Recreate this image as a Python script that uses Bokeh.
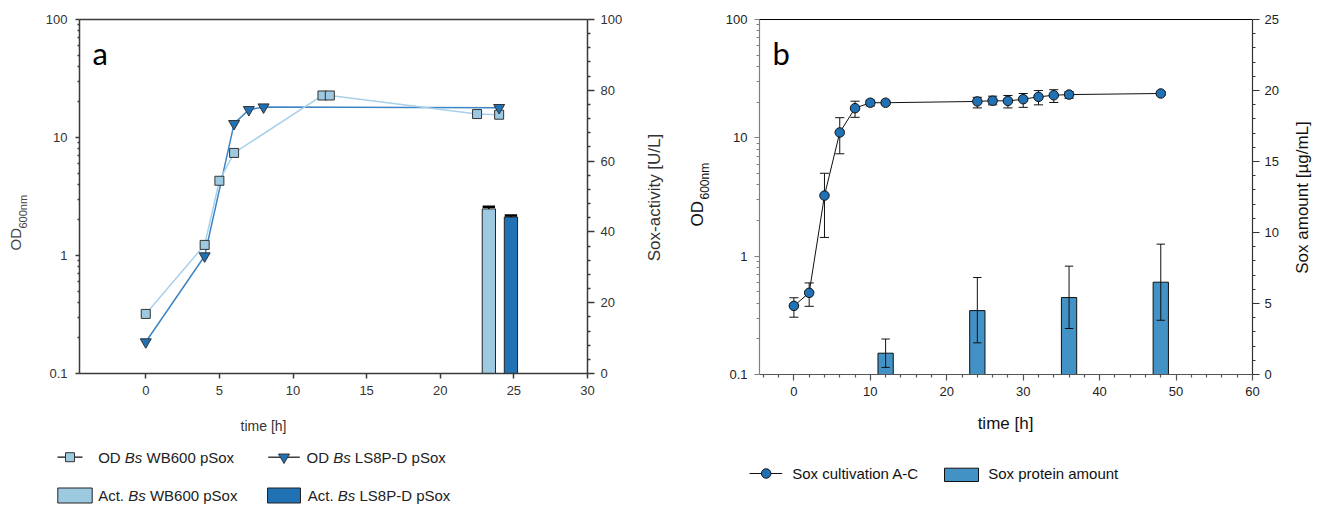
from math import pi, log10
from bokeh.plotting import figure
from bokeh.models import (Range1d, LinearAxis, LinearScale, FixedTicker, Label,
                          CustomJSTickFormatter, ColumnDataSource)
from bokeh.layouts import row
from bokeh.embed import file_html
from bokeh.resources import INLINE

# ---------------- data: panel a ----------------
a_wb_time = [0, 4, 5, 6, 12, 12.5, 22.5, 24]
a_wb_od = [0.32, 1.23, 4.3, 7.4, 22.7, 22.7, 15.8, 15.6]
a_ls_time = [0, 4, 6, 7, 8, 24]
a_ls_od = [0.185, 0.99, 13.1, 17.2, 18.1, 17.9]
a_act_time = [23.3, 24.8]
a_act = [46.5, 44.2]
a_act_err = [0.6, 0.4]

a_x_lim = [-4.5, 30]
a_y_lim = [0.1, 100]
a_y2_lim = [0, 100]
a_x_ticks = [0, 5, 10, 15, 20, 25, 30]
a_y_ticks = [0.1, 1, 10, 100]
a_y2_ticks = [0, 20, 40, 60, 80, 100]
a_y2_minor = [4, 8, 12, 16, 24, 28, 32, 36, 44, 48, 52, 56, 64, 68, 72, 76, 84, 88, 92, 96]

a_legend_od = [["OD", "Bs", "WB600 pSox"], ["OD", "Bs", "LS8P-D pSox"]]
a_legend_act = [["Act.", "Bs", "WB600 pSox"], ["Act.", "Bs", "LS8P-D pSox"]]

# ---------------- data: panel b ----------------
b_time = [0, 2, 4, 6, 8, 10, 12, 24, 26, 28, 30, 32, 34, 36, 48]
b_od = [0.38, 0.49, 3.25, 11.1, 17.8, 19.8, 19.8, 20.3, 20.6, 20.5, 21.2, 22.2, 22.9, 23.2, 23.7]
b_od_hi = [0.445, 0.594, 5.02, 14.8, 20.4, 20.8, 20.4, 22.0, 22.5, 22.8, 23.7, 25.1, 25.5, 24.6, 24.6]
b_od_lo = [0.305, 0.377, 1.44, 7.33, 14.9, 18.6, 19.2, 17.9, 19.0, 17.9, 18.1, 19.0, 19.9, 21.6, 22.8]

b_bar_time = [12, 24, 36, 48]
b_bar = [1.5, 4.5, 5.42, 6.5]
b_bar_hi = [2.5, 6.83, 7.63, 9.18]
b_bar_lo = [0.5, 2.23, 3.24, 3.82]

b_x_lim = [-4.5, 60]
b_y_lim = [0.1, 100]
b_y2_lim = [0, 25]
b_x_ticks = [0, 10, 20, 30, 40, 50, 60]
b_x_minor = [-4, -2, 2, 4, 6, 8, 12, 14, 16, 18, 22, 24, 26, 28, 32, 34, 36, 38,
             42, 44, 46, 48, 52, 54, 56, 58]
b_y_ticks = [0.1, 1, 10, 100]
b_y2_ticks = [0, 5, 10, 15, 20, 25]
b_y2_minor = [1, 2, 3, 4, 6, 7, 8, 9, 11, 12, 13, 14, 16, 17, 18, 19, 21, 22, 23, 24]

b_legend = ["Sox cultivation A-C", "Sox protein amount"]

log_minor = [m * d for d in [0.1, 1, 10] for m in range(2, 10)]

FONT = "Liberation Sans"
C_LIGHT = "#9ecae1"
C_DARK = "#2171b5"
C_BAR_B = "#4292c6"
HF = 507          # canvas height of each panel
WA, WB = 670, 650  # canvas widths of panels a and b

WID = {'O': .778, 'D': .722, ' ': .278, 'B': .667, 's': .5, 'W': .944, '6': .556,
       '0': .556, 'p': .556, 'S': .667, 'o': .556, 'x': .5, 'L': .556, '8': .556,
       'P': .667, '-': .333, 'A': .667, 'c': .5, 't': .278, '.': .278}


def tw(s, size):
    return sum(WID.get(ch, .556) for ch in s) * size


def make_panel(WF, box, xlim, ylim, y2lim, y2name):
    """box = (left, right, top, bottom) of the plot area in canvas pixels."""
    L, R, T, B = box
    kx = (R - L) / (xlim[1] - xlim[0])
    ky = (B - T) / (log10(ylim[1]) - log10(ylim[0]))
    k2 = (B - T) / (y2lim[1] - y2lim[0])
    p = figure(width=WF, height=HF, y_axis_type="log",
               x_range=Range1d(xlim[0] - L / kx, xlim[1] + (WF - R) / kx),
               y_range=Range1d(10 ** (log10(ylim[0]) - (HF - B) / ky),
                               10 ** (log10(ylim[1]) + T / ky)),
               output_backend="svg", toolbar_location=None,
               min_border_left=0, min_border_right=0, min_border_top=0,
               min_border_bottom=0)
    p.grid.visible = False
    p.outline_line_color = None
    p.extra_y_ranges = {y2name: Range1d(y2lim[0] - (HF - B) / k2, y2lim[1] + T / k2),
                        "px": Range1d(HF, 0)}
    p.extra_y_scales = {y2name: LinearScale(), "px": LinearScale()}
    p.extra_x_ranges = {"px": Range1d(0, WF)}
    p.extra_x_scales = {"px": LinearScale()}
    p.xaxis[0].fixed_location = ylim[0]
    p.yaxis[0].fixed_location = xlim[0]
    ax_r = LinearAxis(y_range_name=y2name, fixed_location=xlim[1])
    p.add_layout(ax_r, "right")
    return p, ax_r


def style_axis(ax, color, ticks, minor, size, lw, tout, mout, standoff, tcolor):
    ax.ticker = FixedTicker(ticks=ticks, minor_ticks=minor)
    ax.axis_line_color = None
    ax.major_tick_line_color = color
    ax.minor_tick_line_color = color
    ax.major_tick_line_width = lw
    ax.minor_tick_line_width = lw
    ax.major_tick_in = 0
    ax.major_tick_out = tout
    ax.minor_tick_in = 0
    ax.minor_tick_out = mout
    ax.major_label_text_font = FONT
    ax.major_label_text_font_size = size
    ax.major_label_text_color = tcolor
    ax.major_label_standoff = standoff


def frame_lines(p, xlim, ylim, colors, lw):
    # left, bottom, right, top edges of the plot box, in data coordinates
    p.segment(x0=[xlim[0], xlim[0], xlim[1], xlim[0]],
              y0=[ylim[0], ylim[0], ylim[0], ylim[1]],
              x1=[xlim[0], xlim[1], xlim[1], xlim[1]],
              y1=[ylim[1], ylim[0], ylim[1], ylim[1]],
              line_color=colors, line_width=lw)


def lab(p, px, py, text, size, color="#222", angle=0, align="left",
        baseline="middle", font=FONT, style="normal"):
    p.add_layout(Label(x=px, y=HF - py, x_units="screen", y_units="screen",
                       text=text, text_font=font, text_font_size=size,
                       text_color=color, angle=angle, text_align=align,
                       text_baseline=baseline, text_font_style=style))


def seg_text(p, x0, y, parts, size, color):
    styles = ["normal", "italic", "normal"]
    x = x0
    for part, st in zip(parts, styles):
        lab(p, x, y, part, f"{size}px", color, style=st)
        x += tw(part + " ", size)


fmt_js = "return String(tick);"
PX = dict(x_range_name="px", y_range_name="px")

# ================= panel a =================
pa, ax_r = make_panel(WA, (79, 587, 19, 373), a_x_lim, a_y_lim, a_y2_lim, "act")
style_axis(pa.xaxis[0], "#3a3a3a", a_x_ticks, [], "13px", 1.5, 5, 3, 7, "#333")
style_axis(pa.yaxis[0], "#3a3a3a", a_y_ticks, log_minor, "13px", 1.5, 4, 2, 8, "#333")
pa.yaxis[0].formatter = CustomJSTickFormatter(code=fmt_js)
style_axis(ax_r, "#3a3a3a", a_y2_ticks, a_y2_minor, "13px", 1.5, 7, 3, 6, "#333")

pa.line(a_ls_time, a_ls_od, line_color="#3d85c6", line_width=1.5)
pa.line(a_wb_time, a_wb_od, line_color="#a9d0ea", line_width=1.5)
pa.scatter(a_wb_time, a_wb_od, marker="square", size=9, fill_color=C_LIGHT,
           line_color="#333", line_width=1)
pa.scatter(a_ls_time, a_ls_od, marker="inverted_triangle", size=11, fill_color=C_DARK,
           line_color="#333", line_width=1)

src_act = ColumnDataSource(dict(
    x=a_act_time, top=a_act, color=[C_LIGHT, C_DARK],
    etop=[t + e for t, e in zip(a_act, a_act_err)],
    xl=[x - 0.42 for x in a_act_time], xr=[x + 0.42 for x in a_act_time]))
pa.vbar(x="x", top="top", bottom=0, width=0.9, fill_color="color", line_color="#222",
        line_width=1, source=src_act, y_range_name="act")
pa.segment(x0="x", y0="top", x1="x", y1="etop", line_color="black", line_width=1.5,
           source=src_act, y_range_name="act")
pa.segment(x0="xl", y0="etop", x1="xr", y1="etop", line_color="black", line_width=2.5,
           source=src_act, y_range_name="act")
frame_lines(pa, a_x_lim, a_y_lim, ["#3a3a3a"] * 4, 1.5)

lab(pa, 263, 425, "time [h]", "14px", "#333", align="center")
lab(pa, 15, 250, "OD", "15px", "#444", angle=pi / 2)
lab(pa, 22, 228, "600nm", "11px", "#444", angle=pi / 2)
lab(pa, 654, 197, "Sox-activity [U/L]", "17px", "#333", angle=pi / 2, align="center")
lab(pa, 92, 52, "a", "31px", "black", baseline="alphabetic", font="Lato")

# legend a
r1, r2 = 456.7, 495
pa.line([57, 82], [r1, r1], line_color="#111", line_width=1.2, **PX)
pa.scatter([69.5], [r1], marker="square", size=9, fill_color=C_LIGHT, line_color="#333", **PX)
seg_text(pa, 97.7, r1, a_legend_od[0], 15, "#222")
pa.line([267.7, 299.3], [r1, r1], line_color="#111", line_width=1.2, **PX)
pa.scatter([283.5], [r1], marker="inverted_triangle", size=11, fill_color=C_DARK,
           line_color="#333", **PX)
seg_text(pa, 306, r1, a_legend_od[1], 15, "#222")
pa.quad(left=[57.3, 267], right=[91.7, 300], top=[487.5, 487.5], bottom=[502.5, 502.5],
        fill_color=[C_LIGHT, C_DARK], line_color="#222", line_width=1, **PX)
seg_text(pa, 97.7, r2, a_legend_act[0], 15, "#222")
seg_text(pa, 307.3, r2, a_legend_act[1], 15, "#222")

# ================= panel b (canvas starts at page x = 670) =================
pb, bx_r = make_panel(WB, (89, 582, 19, 374), b_x_lim, b_y_lim, b_y2_lim, "amt")
style_axis(pb.xaxis[0], "#555", b_x_ticks, b_x_minor, "13px", 1.2, 6, 3, 6, "#222")
style_axis(pb.yaxis[0], "#808080", b_y_ticks, log_minor, "13px", 1.2, 5, 3, 7, "#222")
pb.yaxis[0].formatter = CustomJSTickFormatter(code=fmt_js)
style_axis(bx_r, "#333", b_y2_ticks, b_y2_minor, "13px", 1.2, 7, 3, 5, "#222")

src_bar = ColumnDataSource(dict(
    x=b_bar_time, top=b_bar, hi=b_bar_hi, lo=b_bar_lo,
    xl=[x - 0.55 for x in b_bar_time], xr=[x + 0.55 for x in b_bar_time]))
pb.vbar(x="x", top="top", bottom=0, width=2, fill_color=C_BAR_B, line_color="#111",
        line_width=1, source=src_bar, y_range_name="amt")
pb.segment(x0="x", y0="lo", x1="x", y1="hi", line_color="#111", line_width=1,
           source=src_bar, y_range_name="amt")
pb.segment(x0="xl", y0="hi", x1="xr", y1="hi", line_color="#111", line_width=1,
           source=src_bar, y_range_name="amt")
pb.segment(x0="xl", y0="lo", x1="xr", y1="lo", line_color="#111", line_width=1,
           source=src_bar, y_range_name="amt")

src_od = ColumnDataSource(dict(
    x=b_time, y=b_od, hi=b_od_hi, lo=b_od_lo,
    xl=[x - 0.6 for x in b_time], xr=[x + 0.6 for x in b_time]))
pb.segment(x0="x", y0="lo", x1="x", y1="hi", line_color="#111", line_width=1, source=src_od)
pb.segment(x0="xl", y0="hi", x1="xr", y1="hi", line_color="#111", line_width=1, source=src_od)
pb.segment(x0="xl", y0="lo", x1="xr", y1="lo", line_color="#111", line_width=1, source=src_od)
pb.line(x="x", y="y", line_color="#111", line_width=1, source=src_od)
pb.scatter(x="x", y="y", marker="circle", size=9.5, fill_color=C_DARK, line_color="#111",
           line_width=1, source=src_od)
frame_lines(pb, b_x_lim, b_y_lim, ["#808080", "#555", "#333", "black"], 1.2)

lab(pb, 335, 423, "time [h]", "17px", "#111", align="center")
lab(pb, 27, 226, "OD", "17px", "#111", angle=pi / 2)
lab(pb, 34, 199, "600nm", "12px", "#111", angle=pi / 2)
lab(pb, 632, 197, "Sox amount [µg/mL]", "17px", "#111", angle=pi / 2, align="center")
lab(pb, 102, 52, "b", "31px", "black", baseline="alphabetic", font="Lato")

# legend b
rb = 473
pb.line([79, 111.7], [rb, rb], line_color="#111", line_width=1.2, **PX)
pb.scatter([95.7], [rb], marker="circle", size=9.5, fill_color=C_DARK, line_color="#111", **PX)
lab(pb, 121.7, rb, b_legend[0], "15px", "#111")
pb.quad(left=[274], right=[308], top=[467.7], bottom=[481], fill_color=C_BAR_B,
        line_color="#111", line_width=1, **PX)
lab(pb, 317.7, rb, b_legend[1], "15px", "#111")

layout = row(pa, pb)
open("out.html", "w").write(file_html(layout, INLINE))
